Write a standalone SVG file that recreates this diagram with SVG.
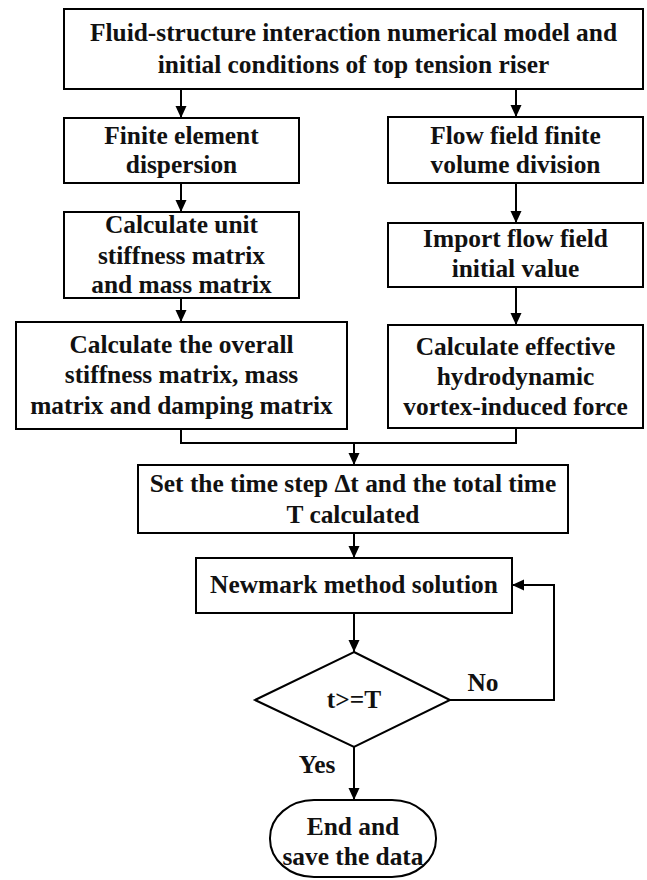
<svg xmlns="http://www.w3.org/2000/svg" width="647" height="880" viewBox="0 0 647 880">
<style>
.b{fill:#fff;stroke:#000;stroke-width:2}
.t{font-family:"Liberation Serif","Times New Roman",serif;font-weight:bold;font-size:25.4px;fill:#111;text-anchor:middle}
.c{fill:none;stroke:#000;stroke-width:2}
</style>
<defs>
<marker id="ah" viewBox="0 0 12 12" refX="12" refY="6" markerWidth="12" markerHeight="13" markerUnits="userSpaceOnUse" orient="auto">
<path d="M0,0.5 L12,6 L0,11.5 Z" fill="#000"/>
</marker>
</defs>
<rect width="647" height="880" fill="#fff"/>
<g id="connectors">
<line class="c" x1="181" y1="89" x2="181" y2="118" marker-end="url(#ah)"/>
<line class="c" x1="516" y1="89" x2="516" y2="117" marker-end="url(#ah)"/>
<line class="c" x1="181" y1="183" x2="181" y2="212" marker-end="url(#ah)"/>
<line class="c" x1="516" y1="183" x2="516" y2="223" marker-end="url(#ah)"/>
<line class="c" x1="181" y1="298" x2="181" y2="322" marker-end="url(#ah)"/>
<line class="c" x1="516" y1="287" x2="516" y2="325" marker-end="url(#ah)"/>
<polyline class="c" points="181,429 181,443 516,443 516,428"/>
<line class="c" x1="354" y1="443" x2="354" y2="465" marker-end="url(#ah)"/>
<line class="c" x1="354" y1="533" x2="354" y2="558" marker-end="url(#ah)"/>
<line class="c" x1="354" y1="613" x2="354" y2="652" marker-end="url(#ah)"/>
<line class="c" x1="354" y1="747" x2="354" y2="800" marker-end="url(#ah)"/>
<polyline class="c" points="450,700 554,700 554,585 512,585" marker-end="url(#ah)"/>
<text class="t" x="483" y="691">No</text>
<text class="t" x="317" y="773">Yes</text>
</g>
<g id="n1">
<rect class="b" x="64" y="9" width="579" height="80"/>
<text class="t" x="353.5" y="41">Fluid-structure interaction numerical model and</text>
<text class="t" x="353.5" y="73">initial conditions of top tension riser</text>
</g>
<g id="n2">
<rect class="b" x="64" y="118" width="235" height="65"/>
<text class="t" x="181.5" y="144">Finite element</text>
<text class="t" x="181.5" y="173">dispersion</text>
</g>
<g id="n3">
<rect class="b" x="388" y="117" width="255" height="66"/>
<text class="t" x="515.5" y="144">Flow field finite</text>
<text class="t" x="515.5" y="173">volume division</text>
</g>
<g id="n4">
<rect class="b" x="64" y="212" width="235" height="86"/>
<text class="t" x="181.5" y="233">Calculate unit</text>
<text class="t" x="181.5" y="264">stiffness matrix</text>
<text class="t" x="181.5" y="293">and mass matrix</text>
</g>
<g id="n5">
<rect class="b" x="388" y="223" width="255" height="64"/>
<text class="t" x="515.5" y="247">Import flow field</text>
<text class="t" x="515.5" y="277">initial value</text>
</g>
<g id="n6">
<rect class="b" x="16" y="322" width="331" height="107"/>
<text class="t" x="181.5" y="353">Calculate the overall</text>
<text class="t" x="181.5" y="383">stiffness matrix, mass</text>
<text class="t" x="181.5" y="414">matrix and damping matrix</text>
</g>
<g id="n7">
<rect class="b" x="388" y="325" width="255" height="103"/>
<text class="t" x="515.5" y="355">Calculate effective</text>
<text class="t" x="515.5" y="385">hydrodynamic</text>
<text class="t" x="515.5" y="415">vortex-induced force</text>
</g>
<g id="n8">
<rect class="b" x="138" y="465" width="430" height="68"/>
<text class="t" x="353" y="492">Set the time step Δt and the total time</text>
<text class="t" x="353" y="523">T calculated</text>
</g>
<g id="n9">
<rect class="b" x="196" y="558" width="316" height="55"/>
<text class="t" x="354" y="593">Newmark method solution</text>
</g>
<g id="n10">
<polygon class="b" points="354,652 450,700 354,747 255,700"/>
<text class="t" x="354" y="708">t&gt;=T</text>
</g>
<g id="n11">
<rect class="b" x="270" y="800" width="166" height="77" rx="44" ry="38"/>
<text class="t" x="353" y="835">End and</text>
<text class="t" x="353" y="865">save the data</text>
</g>
</svg>
